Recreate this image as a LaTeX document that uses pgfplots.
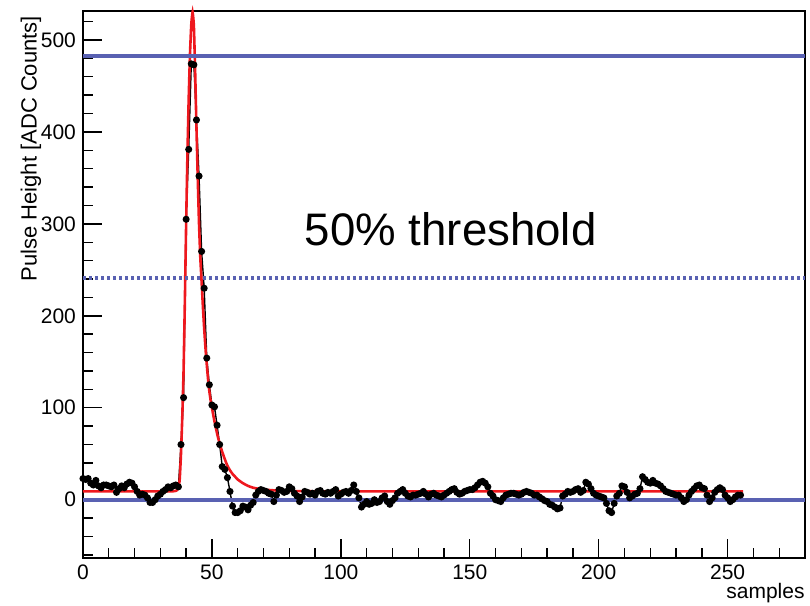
\documentclass[border=0pt]{standalone}
\usepackage{pgfplots}
\pgfplotsset{compat=1.18}
\usepackage{pgfplotstable}
\usepackage{fontspec}
\setmainfont{Liberation Sans}
\definecolor{rootblue}{RGB}{89,97,178}
\definecolor{rootred}{RGB}{238,24,30}

\pgfplotstableread{
s v
0 23
1 22
2 23
3 18
4 16
5 21
6 15
7 13
8 16
9 16
10 15
11 14
12 16
13 8
14 12
15 15
16 13
17 17
18 19
19 18
20 14
21 9
22 5
23 6
24 5
25 2
26 -3
27 -3
28 0
29 4
30 6
31 9
32 11
33 14
34 13
35 15
36 16
37 14
38 60
39 111
40 305
41 381
42 474
43 473
44 413
45 352
46 270
47 230
48 154
49 125
50 103
51 101
52 81
53 60
54 36
55 33
56 24
57 9
58 -7
59 -14
60 -14
61 -12
62 -7
63 -8
64 -11
65 -6
66 -3
67 5
68 9
69 11
70 10
71 9
72 7
73 6
74 -2
75 5
76 11
77 10
78 8
79 9
80 14
81 12
82 7
83 4
84 -2
85 3
86 9
87 8
88 6
89 7
90 5
91 9
92 10
93 7
94 6
95 8
96 7
97 9
98 11
99 4
100 6
101 8
102 9
103 7
104 10
105 16
106 9
107 2
108 -8
109 -5
110 -2
111 -5
112 -4
113 0
114 -3
115 -2
116 2
117 4
118 -2
119 -5
120 -1
121 2
122 7
123 9
124 11
125 7
126 4
127 3
128 5
129 5
130 6
131 7
132 9
133 6
134 3
135 6
136 7
137 5
138 4
139 3
140 5
141 7
142 9
143 11
144 12
145 8
146 6
147 7
148 9
149 10
150 11
151 11
152 13
153 16
154 19
155 20
156 18
157 14
158 7
159 4
160 0
161 -1
162 -2
163 2
164 5
165 6
166 7
167 7
168 6
169 5
170 6
171 8
172 9
173 8
174 7
175 5
176 5
177 3
178 1
179 -1
180 -2
181 -5
182 -6
183 -8
184 -10
185 -9
186 4
187 6
188 9
189 8
190 9
191 11
192 12
193 8
194 10
195 19
196 17
197 12
198 7
199 5
200 4
201 3
202 2
203 -4
204 -12
205 -14
206 -4
207 4
208 7
209 15
210 14
211 8
212 2
213 4
214 6
215 7
216 12
217 25
218 22
219 19
220 18
221 21
222 18
223 17
224 15
225 12
226 9
227 8
228 7
229 6
230 5
231 5
232 2
233 -2
234 0
235 5
236 9
237 12
238 15
239 16
240 13
241 12
242 5
243 -2
244 2
245 8
246 11
247 13
248 11
249 5
250 2
251 -2
252 0
253 3
254 5
255 5
}\pulsedata

\pgfplotstableread{
s v
0 9
30 9
35 9.2
36 9.6
36.5 10.5
37 13
37.5 22
38 50
38.5 90
39 140
39.5 215
40 300
40.5 375
41 437
41.5 485
42 517
42.5 530
43 515
43.5 465
44 405
44.5 350
45 300
45.5 263
46 237
46.5 210
47 186
47.5 165
48 147
48.5 131
49 118
49.5 108
50 100
51 85
52 72
53 61
54 52
55 44
56 37
57 32
58 28
59 25
60 22
62 18
64 15
66 13
68 12
70 11
75 10
80 9.5
90 9.1
100 9
256 9
}\fitdata

\begin{document}
\begin{tikzpicture}
\useasboundingbox (-41.5pt,-24pt) rectangle (363.5pt,279pt);
\begin{axis}[
  at={(0,0)}, anchor=south west,
  scale only axis, width=361pt, height=273.5pt,
  xmin=0, xmax=280, ymin=-63.4, ymax=531.5,
  xtick={0,50,...,250}, ytick={0,100,...,500},
  minor xtick={0,10,...,280}, minor ytick={-60,-40,...,520},
  tick align=inside, xtick pos=bottom, ytick pos=left,
  major tick length=9.5pt, minor tick length=5.2pt,
  every tick/.style={black, line width=0.7pt},
  axis line style={line width=0.75pt},
  tick label style={font=\fontsize{10.5}{12}\selectfont},
  /pgf/number format/assume math mode=true,
  scaled ticks=false,
  clip=false,
]
\addplot[black, line width=0.7pt, mark=*, mark size=1.4pt, mark options={solid, fill=black}] table[x=s, y=v] {\pulsedata};
\addplot[rootred, line width=1.3pt, no marks, smooth, tension=0.3] table[x=s, y=v] {\fitdata};
\addplot[rootblue, line width=2pt, no marks] coordinates {(0,483) (280,483)};
\addplot[rootblue, line width=2pt, no marks, dash pattern=on 1.4pt off 1.6pt] coordinates {(0,241.5) (280,241.5)};
\addplot[rootblue, line width=2pt, no marks] coordinates {(0,0) (280,0)};
\node[anchor=base, font=\fontsize{22.8}{27}\selectfont] at (axis cs:142.6,277) {50\% threshold};
\node[rotate=90, anchor=east, font=\fontsize{11}{13}\selectfont] at ([xshift=-26pt,yshift=1pt]rel axis cs:0,1) {Pulse Height [ADC Counts]};
\node[anchor=base east, font=\fontsize{10.5}{12}\selectfont, inner sep=0pt] at ([yshift=-20pt]rel axis cs:1,0) {samples};
\end{axis}
\end{tikzpicture}
\end{document}
